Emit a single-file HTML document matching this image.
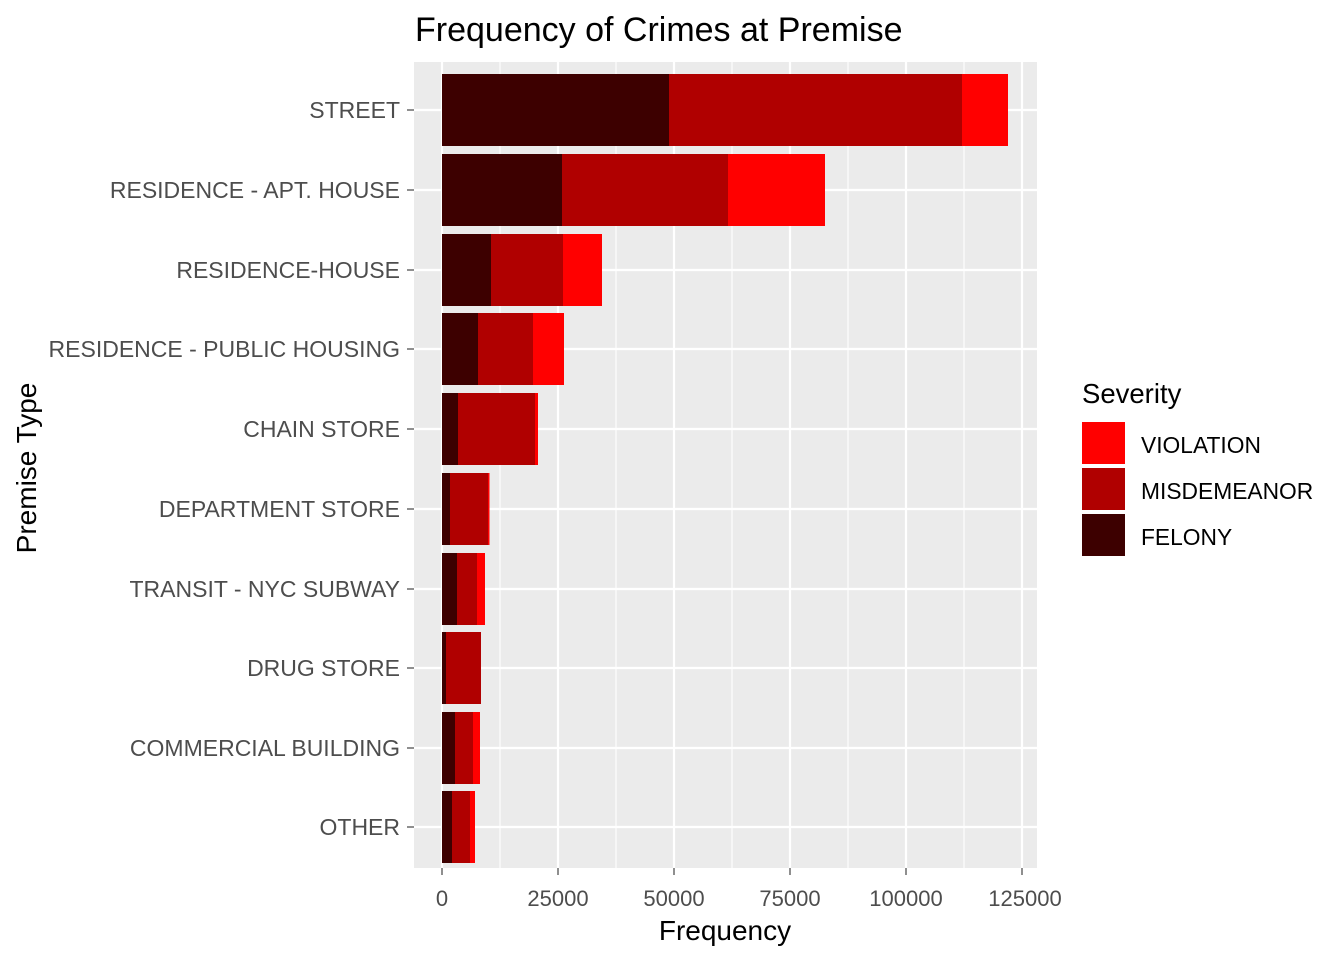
<!DOCTYPE html>
<html><head><meta charset="utf-8"><style>body{margin:0;background:#fff}svg{display:block}</style></head>
<body>
<svg width="1344" height="960" xmlns="http://www.w3.org/2000/svg" font-family="Liberation Sans, Arial, sans-serif">
<rect x="0" y="0" width="1344" height="960" fill="#fff"/>
<rect x="414" y="62" width="623" height="806" fill="#EBEBEB"/>
<g stroke="#fff" stroke-width="1.1">
<line x1="500" y1="62" x2="500" y2="868"/><line x1="616" y1="62" x2="616" y2="868"/><line x1="732" y1="62" x2="732" y2="868"/><line x1="848" y1="62" x2="848" y2="868"/><line x1="964" y1="62" x2="964" y2="868"/>
</g>
<g stroke="#fff" stroke-width="2.2">
<line x1="442" y1="62" x2="442" y2="868"/><line x1="558" y1="62" x2="558" y2="868"/><line x1="674" y1="62" x2="674" y2="868"/><line x1="790" y1="62" x2="790" y2="868"/><line x1="906" y1="62" x2="906" y2="868"/><line x1="1022" y1="62" x2="1022" y2="868"/>
<line x1="414" y1="110" x2="1037" y2="110"/><line x1="414" y1="190" x2="1037" y2="190"/><line x1="414" y1="270" x2="1037" y2="270"/><line x1="414" y1="349" x2="1037" y2="349"/><line x1="414" y1="429" x2="1037" y2="429"/><line x1="414" y1="509" x2="1037" y2="509"/><line x1="414" y1="589" x2="1037" y2="589"/><line x1="414" y1="668" x2="1037" y2="668"/><line x1="414" y1="748" x2="1037" y2="748"/><line x1="414" y1="827" x2="1037" y2="827"/>
</g>
<g>
<rect x="442" y="74" width="227" height="72" fill="#3D0000"/><rect x="669" y="74" width="293" height="72" fill="#B00000"/><rect x="962" y="74" width="46" height="72" fill="#FF0000"/>
<rect x="442" y="154" width="120" height="72" fill="#3D0000"/><rect x="562" y="154" width="166" height="72" fill="#B00000"/><rect x="728" y="154" width="97" height="72" fill="#FF0000"/>
<rect x="442" y="234" width="49" height="72" fill="#3D0000"/><rect x="491" y="234" width="72" height="72" fill="#B00000"/><rect x="563" y="234" width="39" height="72" fill="#FF0000"/>
<rect x="442" y="313" width="36" height="72" fill="#3D0000"/><rect x="478" y="313" width="55" height="72" fill="#B00000"/><rect x="533" y="313" width="31" height="72" fill="#FF0000"/>
<rect x="442" y="393" width="16" height="72" fill="#3D0000"/><rect x="458" y="393" width="77" height="72" fill="#B00000"/><rect x="535" y="393" width="3" height="72" fill="#FF0000"/>
<rect x="442" y="473" width="8" height="72" fill="#3D0000"/><rect x="450" y="473" width="38" height="72" fill="#B00000"/><rect x="488" y="473" width="1.5" height="72" fill="#FF0000"/>
<rect x="442" y="553" width="15" height="72" fill="#3D0000"/><rect x="457" y="553" width="20" height="72" fill="#B00000"/><rect x="477" y="553" width="8" height="72" fill="#FF0000"/>
<rect x="442" y="632" width="4" height="72" fill="#3D0000"/><rect x="446" y="632" width="35" height="72" fill="#B00000"/>
<rect x="442" y="712" width="13" height="72" fill="#3D0000"/><rect x="455" y="712" width="18" height="72" fill="#B00000"/><rect x="473" y="712" width="7" height="72" fill="#FF0000"/>
<rect x="442" y="791" width="10" height="72" fill="#3D0000"/><rect x="452" y="791" width="18" height="72" fill="#B00000"/><rect x="470" y="791" width="5" height="72" fill="#FF0000"/>
</g>
<g stroke="#333" stroke-width="1.1">
<line x1="407" y1="110" x2="414" y2="110"/><line x1="407" y1="190" x2="414" y2="190"/><line x1="407" y1="270" x2="414" y2="270"/><line x1="407" y1="349" x2="414" y2="349"/><line x1="407" y1="429" x2="414" y2="429"/><line x1="407" y1="509" x2="414" y2="509"/><line x1="407" y1="589" x2="414" y2="589"/><line x1="407" y1="668" x2="414" y2="668"/><line x1="407" y1="748" x2="414" y2="748"/><line x1="407" y1="827" x2="414" y2="827"/>
<line x1="442" y1="868" x2="442" y2="875"/><line x1="558" y1="868" x2="558" y2="875"/><line x1="674" y1="868" x2="674" y2="875"/><line x1="790" y1="868" x2="790" y2="875"/><line x1="906" y1="868" x2="906" y2="875"/><line x1="1022" y1="868" x2="1022" y2="875"/>
</g>
<g font-size="23" fill="#4D4D4D" text-anchor="end">
<text x="400" y="118">STREET</text><text x="400" y="198">RESIDENCE - APT. HOUSE</text><text x="400" y="278">RESIDENCE-HOUSE</text><text x="400" y="357">RESIDENCE - PUBLIC HOUSING</text><text x="400" y="437">CHAIN STORE</text><text x="400" y="517">DEPARTMENT STORE</text><text x="400" y="597">TRANSIT - NYC SUBWAY</text><text x="400" y="676">DRUG STORE</text><text x="400" y="756">COMMERCIAL BUILDING</text><text x="400" y="835">OTHER</text>
</g>
<g font-size="22" fill="#4D4D4D" text-anchor="middle">
<text x="442" y="906">0</text><text x="558" y="906">25000</text><text x="674" y="906">50000</text><text x="790" y="906">75000</text><text x="906" y="906">100000</text><text x="1025" y="906">125000</text>
</g>
<text x="725" y="940" font-size="28" text-anchor="middle" fill="#000">Frequency</text>
<text transform="translate(36,468) rotate(-90)" font-size="28" text-anchor="middle" fill="#000">Premise Type</text>
<text x="415" y="41" font-size="34" fill="#000">Frequency of Crimes at Premise</text>
<text x="1082" y="403" font-size="27.5" fill="#000">Severity</text>
<rect x="1082" y="422" width="43" height="42" fill="#FF0000"/><rect x="1082" y="468" width="43" height="42" fill="#B00000"/><rect x="1082" y="514" width="43" height="42" fill="#3D0000"/>
<g font-size="22.8" fill="#000"><text x="1141" y="453">VIOLATION</text><text x="1141" y="499">MISDEMEANOR</text><text x="1141" y="545">FELONY</text></g>
</svg>
</body></html>
